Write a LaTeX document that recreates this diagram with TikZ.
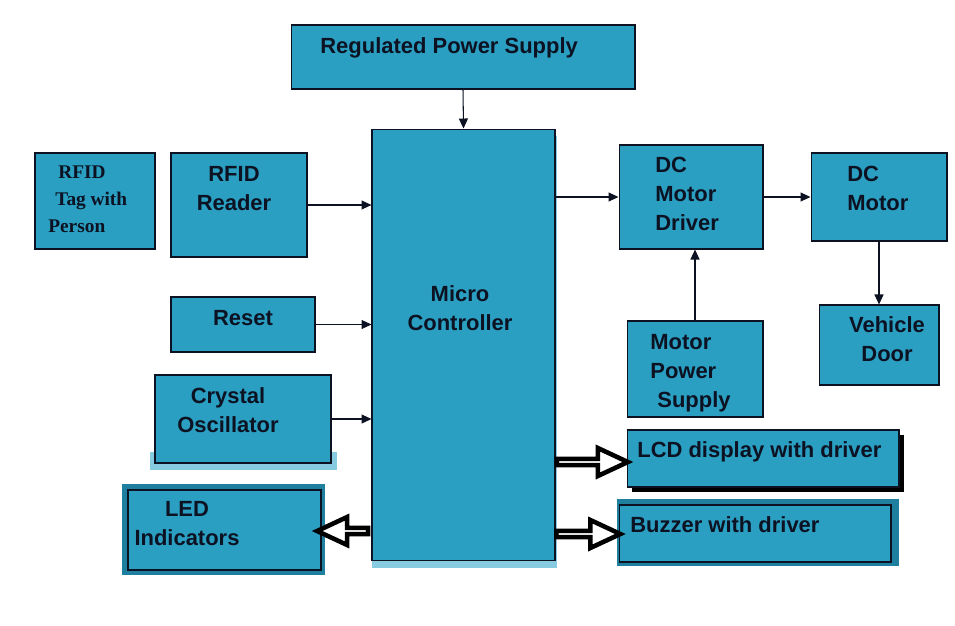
\documentclass[tikz,border=0pt]{standalone}
\usepackage{fontspec}
\setmainfont{Liberation Sans}
\newfontfamily\tagfont{Liberation Serif}
\usetikzlibrary{positioning, shapes.arrows, arrows.meta, calc}
\definecolor{blk}{HTML}{2A9FC2}
\definecolor{blklight}{HTML}{86CBE0}
\definecolor{blkdark}{HTML}{1E7F9E}
\definecolor{ink}{HTML}{0C1222}

\begin{document}
\begin{tikzpicture}[x=0.02cm, y=-0.02cm,
  font=\fontsize{12.5}{16.4}\selectfont\bfseries,
  box/.style={draw=ink, fill=blk, inner sep=0pt, line width=0.6pt},
  back/.style={fill=#1, inner sep=0pt},
  txt/.style={text=ink, inner sep=0pt, anchor=base, align=center},
  ltxt/.style={text=ink, inner sep=0pt, anchor=base west, align=left},
  arr/.style={-{Triangle[length=2mm, width=1.8mm]}, line width=0.6pt, ink},
  fat/.style={single arrow, draw=black, fill=white, line width=2.6pt,
    inner sep=0pt, minimum width=0.56cm, single arrow head extend=0.16cm,
    single arrow tip angle=50, single arrow head indent=0pt}
]
  \useasboundingbox (0,0) rectangle (955,625);

  % shadows behind some blocks
  \node[back=blklight, minimum width=3.72cm, minimum height=8.64cm] (mcsh) at (464.5,352) {};
  \node[back=blklight, minimum width=3.74cm, minimum height=0.36cm] (xtalsh) at (243.5,461) {};
  \node[back=blkdark, minimum width=4.06cm, minimum height=1.82cm] (ledsh) at (223.5,529.5) {};
  \node[back=black, minimum width=5.44cm, minimum height=1.14cm] (lcdsh) at (768,463.5) {};
  \node[back=blkdark, minimum width=5.64cm, minimum height=1.34cm] (buzsh) at (758,532.5) {};

  % blocks
  \node[box, minimum width=6.88cm, minimum height=1.28cm] (rps) at (463,57) {};
  \node[box, minimum width=3.66cm, minimum height=8.64cm] (mc) at (463.5,345) {};
  \node[box, minimum width=2.4cm, minimum height=1.92cm] (tag) at (95,201) {};
  \node[box, minimum width=2.72cm, minimum height=2.08cm] (rdr) at (239,205) {};
  \node[box, minimum width=2.88cm, minimum height=1.1cm] (rst) at (243,324.5) {};
  \node[box, minimum width=3.52cm, minimum height=1.76cm] (xtal) at (243,419) {};
  \node[box, minimum width=3.86cm, minimum height=1.6cm] (led) at (224.5,530) {};
  \node[box, minimum width=2.88cm, minimum height=2.08cm] (drv) at (691,197) {};
  \node[box, minimum width=2.72cm, minimum height=1.76cm] (mot) at (879,197) {};
  \node[box, minimum width=2.4cm, minimum height=1.6cm] (door) at (879,345) {};
  \node[box, minimum width=2.72cm, minimum height=1.92cm] (mps) at (695,369) {};
  \node[box, minimum width=5.44cm, minimum height=1.14cm] (lcd) at (763,458.5) {};
  \node[box, minimum width=5.44cm, minimum height=1.14cm] (buz) at (755,533.5) {};

  % texts (anchored at the baseline of the last line)
  \node[ltxt] (rps-t) at (320,53) {Regulated Power Supply};
  \node[ltxt, font=\tagfont\fontsize{11}{15.3}\selectfont\bfseries] (tag-t) at (48,232)
    {\hspace*{5.7pt}RFID\\\hspace*{4pt}Tag with\\Person};
  \node[txt] (rdr-t) at (234,210) {RFID\\Reader};
  \node[txt] (rst-t) at (243,325) {Reset};
  \node[txt] (xtal-t) at (228,432) {Crystal\\Oscillator};
  \node[txt] (led-t) at (187,545) {LED\\Indicators};
  \node[txt] (mc-t) at (460,330) {Micro\\Controller};
  \node[ltxt] (drv-t) at (655,230) {DC\\Motor\\Driver};
  \node[ltxt] (mot-t) at (847,210) {DC\\Motor};
  \node[txt] (door-t) at (887,361) {Vehicle\\Door};
  \node[ltxt] (mps-t) at (650,407) {Motor\\Power\\\hspace*{4pt}Supply};
  \node[ltxt] (lcd-t) at (637,457) {LCD display with driver};
  \node[ltxt] (buz-t) at (630,532) {Buzzer with driver};

  % connectors
  \draw[arr] (rps.south) -- (mc.north);
  \foreach \s in {rdr, rst, xtal} \draw[arr] (\s.east) -- (\s.east -| mc.west);
  \draw[arr] (drv.west -| mc.east) -- (drv.west);
  \draw[arr] (drv.east) -- (drv.east -| mot.west);
  \draw[arr] (mot.south) -- (door.north);
  \draw[arr] (mps.north) -- (mps.north |- drv.south);

  % block arrows
  \node[fat, minimum height=1.42cm] (lcd-a) at (589,462) {};
  \node[fat, minimum height=1.28cm] (buz-a) at (585,534) {};
  \node[fat, minimum height=1.02cm, shape border rotate=180] (led-a) at (346,531) {};
\end{tikzpicture}
\end{document}
